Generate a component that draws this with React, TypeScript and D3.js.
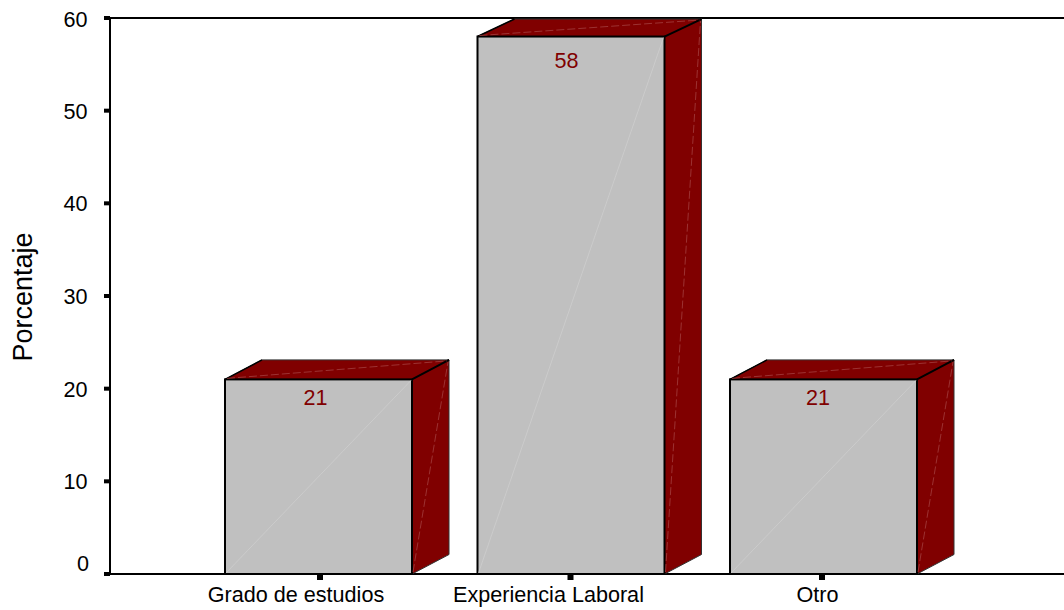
import React from "react";
import * as d3 from "d3";

const categories = ["Grado de estudios", "Experiencia Laboral", "Otro"];
const percentages = [21, 58, 21];
const yTicks = [0, 10, 20, 30, 40, 50, 60];

const WIDTH = 1064;
const HEIGHT = 610;
const FONT = "'Liberation Sans', Arial, sans-serif";
const MAROON = "#800000";
const GREY = "#c0c0c0";
const DEPTH_X = 37;
const DEPTH_Y = 19.5;
// The taller bar recedes a little less at its top edge.
const topDepth = [19.5, 17.5, 19.5];
// Axis captions sit slightly off their bar centres.
const captionShift = [-22.5, -22.5, -6];
const tickShift = [1.5, -0.5, -1.5];
const valueShift = [-3, -4.5, -5.5];
const valueDrop = [18, 24, 18];

export default function App() {
  const axisLeft = 110;
  const y = d3.scaleLinear().domain([0, 60]).range([574, 18]);
  const x = d3
    .scaleBand<string>()
    .domain(categories)
    .range([225, 917])
    .paddingInner(0.2594)
    .paddingOuter(0);
  const w = x.bandwidth();
  const line = d3.line();
  const closed = (pts: [number, number][]) => line(pts) + "Z";

  return (
    <svg
      width={WIDTH}
      height={HEIGHT}
      viewBox={`0 0 ${WIDTH} ${HEIGHT}`}
      style={{ position: "absolute", left: 0, top: 0, background: "#fff" }}
      fontFamily={FONT}
    >
      {/* plot frame */}
      <line x1={axisLeft} x2={WIDTH} y1={y(60)} y2={y(60)} stroke="#000" strokeWidth={2} />
      <line x1={axisLeft} x2={axisLeft} y1={y(60) - 1} y2={y(0) + 1} stroke="#000" strokeWidth={2} />
      <line x1={axisLeft} x2={WIDTH} y1={y(0)} y2={y(0)} stroke="#000" strokeWidth={2} />

      {/* value axis */}
      {yTicks.map((t) => (
        <g key={t}>
          <rect x={104} y={y(t) - 2} width={6} height={4} fill="#000" />
          <text
            x={t === 0 ? 89 : 87.5}
            y={y(t) + (t === 0 ? -11 : t === 60 ? 1 : 0.5)}
            dy="0.35em"
            textAnchor="end"
            fontSize={21.6}
            fill="#000"
          >
            {t}
          </text>
        </g>
      ))}
      <text
        transform={`translate(32 ${y(30) + 1}) rotate(-90)`}
        textAnchor="middle"
        fontSize={27}
        fill="#000"
      >
        Porcentaje
      </text>

      {/* bars with their top and side faces */}
      {categories.map((c, i) => {
        const x0 = x(c)!;
        const x1 = x0 + w;
        const top = y(percentages[i]);
        const base = y(0);
        const back = top - topDepth[i];
        return (
          <g key={c}>
            <path
              d={closed([[x0, top], [x0 + DEPTH_X, back], [x1 + DEPTH_X, back], [x1, top]])}
              fill={MAROON}
              stroke="#333"
              strokeWidth={1}
              strokeLinejoin="round"
            />
            <path
              d={closed([[x1, top], [x1 + DEPTH_X, back], [x1 + DEPTH_X, base - DEPTH_Y], [x1, base]])}
              fill={MAROON}
              stroke="#333"
              strokeWidth={1}
              strokeLinejoin="round"
            />
            <line x1={x1} y1={top} x2={x1 + DEPTH_X} y2={back} stroke="#000" strokeWidth={2} />
            <line x1={x0} y1={top} x2={x0 + DEPTH_X} y2={back} stroke="#000" strokeWidth={1.5} />
            <rect x={x0} y={top} width={w} height={base - top} fill={GREY} stroke="#000" strokeWidth={2} />
            {/* faint seams across each face */}
            <line x1={x0 + 1} y1={base - 1} x2={x1 - 1} y2={top + 1} stroke="#d0d0d0" strokeWidth={0.7} />
            <line x1={x0 + 2} y1={top - 1} x2={x1 + DEPTH_X - 2} y2={back + 1} stroke="#a84848" strokeWidth={0.7} strokeDasharray="8 3" />
            <line x1={x1 + 1} y1={base - 2} x2={x1 + DEPTH_X - 1} y2={back + 2} stroke="#a84848" strokeWidth={0.7} strokeDasharray="8 3" />
            <text x={x0 + w / 2 + valueShift[i]} y={top + valueDrop[i]} dy="0.35em" textAnchor="middle" fontSize={21.6} fill={MAROON}>
              {percentages[i]}
            </text>
            <rect x={x0 + w / 2 + tickShift[i] - 3} y={base} width={6} height={6} fill="#000" />
            <text x={x0 + w / 2 + captionShift[i]} y={602} textAnchor="middle" fontSize={21.6} fill="#000">
              {c}
            </text>
          </g>
        );
      })}
    </svg>
  );
}
